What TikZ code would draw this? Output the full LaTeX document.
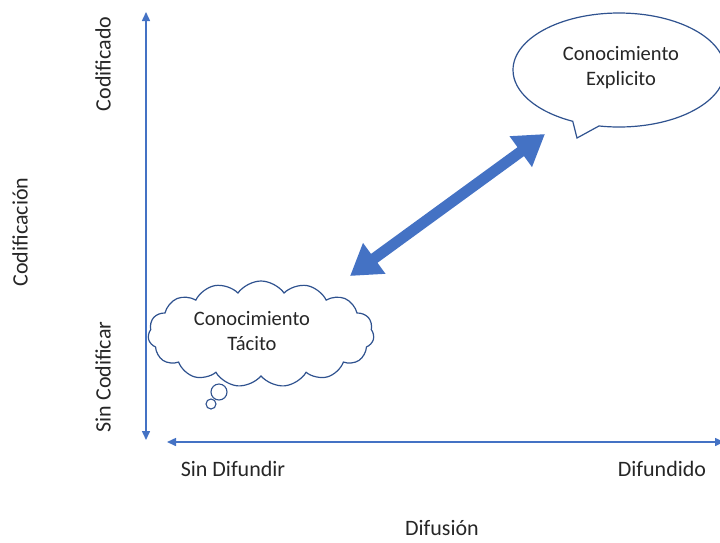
\documentclass[tikz,border=0pt]{standalone}
\usepackage{fontspec}
\setmainfont{Carlito}
\usetikzlibrary{positioning, shapes.symbols, shapes.callouts, arrows.meta}
\definecolor{axisblue}{RGB}{68,114,196}
\definecolor{shapeblue}{RGB}{47,82,143}
\tikzset{
  axis/.style={draw=axisblue, line width=1.5pt, {Triangle[length=9pt, width=8pt]}-{Triangle[length=9pt, width=8pt]}},
  label/.style={font=\fontsize{22}{26}\selectfont, text=black!85},
  inlabel/.style={font=\fontsize{20.5}{25}\selectfont, text=black!85, align=center},
  bubble/.style={ellipse callout, draw=shapeblue, line width=1.2pt, fill=white,
    minimum width=212pt, minimum height=114pt},
  thought/.style={cloud, cloud puffs=15, cloud puff arc=110, aspect=2.1, draw=shapeblue,
    line width=1.2pt, fill=white, minimum width=226pt, minimum height=106pt},
  puff/.style={circle, draw=shapeblue, line width=1.1pt, inner sep=0pt},
  linkarrow/.style={draw=axisblue, line width=11pt,
    {Triangle[length=30pt, width=36pt]}-{Triangle[length=30pt, width=36pt]}}
}
\begin{document}
\begin{tikzpicture}[x=1pt, y=-1pt]
  \useasboundingbox (0,0) rectangle (720,542);

  % axes
  \coordinate (ytop) at (146,12);
  \coordinate (ybot) at (146,440);
  \coordinate (xleft) at (167,442);
  \coordinate (xright) at (724,442);
  \draw[axis] (ybot) -- (ytop);
  \draw[axis] (xleft) -- (xright);

  % axis labels
  \node[label, rotate=90] (codif) at (103,64) {Codificado};
  \node[label, rotate=90] (sincodif) at (103,377) {Sin Codificar};
  \node[label, rotate=90] (codificacion) at (20,232) {Codificación};
  \node[label] (sindif) at (233,469) {Sin Difundir};
  \node[label] (dif) at (662,469) {Difundido};
  \node[label] (difusion) at (442,528) {Difusión};

  % knowledge shapes
  \node[bubble, callout absolute pointer={(577,138)}] (explicit) at (619,70) {};
  \node[inlabel] (explicittext) at (621,68) {Conocimiento\\Explicito};
  \node[thought] (tacit) at (261,334) {};
  \node[inlabel] (tacittext) at (252,331) {Conocimiento\\Tácito};
  \node[puff, minimum size=16pt] (puffa) at (219,392) {};
  \node[puff, minimum size=10pt] (puffb) at (211,404) {};

  % link
  \coordinate (linkstart) at (350,276);
  \coordinate (linkend) at (545,134);
  \draw[linkarrow] (linkstart) -- (linkend);
\end{tikzpicture}
\end{document}
